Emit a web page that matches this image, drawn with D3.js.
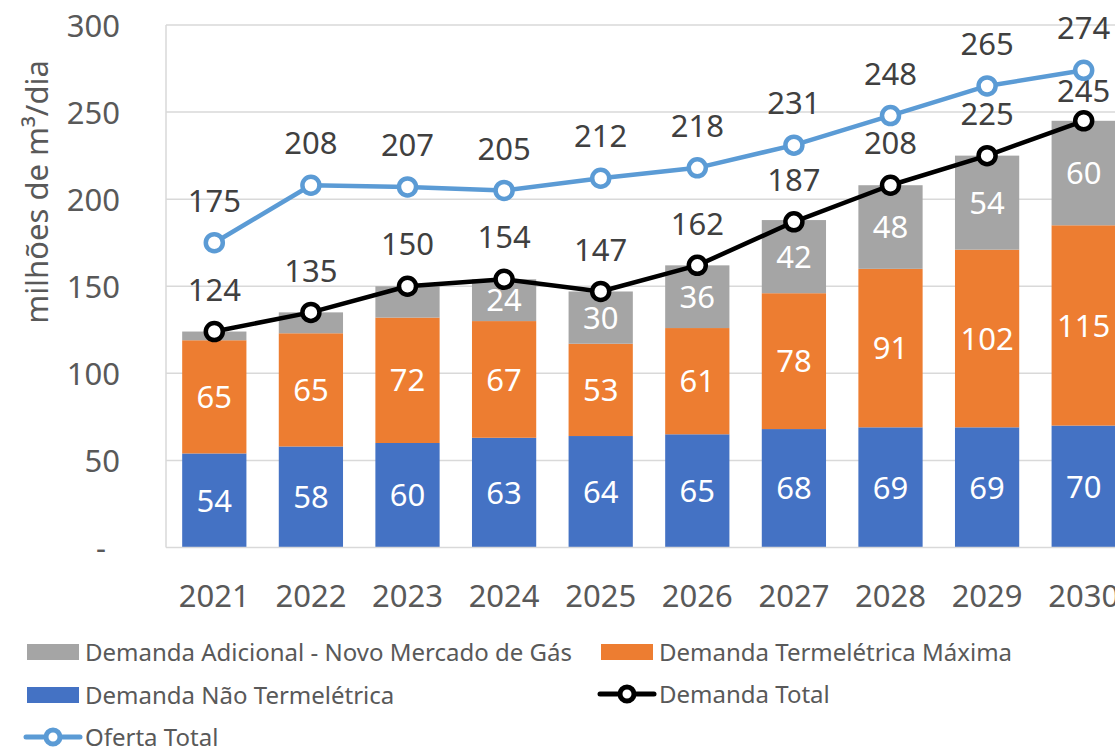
<!DOCTYPE html>
<html><head><meta charset="utf-8">
<script src="https://cdn.jsdelivr.net/npm/d3@7"></script>
<style>html,body{margin:0;padding:0;background:#fff;overflow:hidden}svg{display:block}</style>
</head><body>
<svg id="c" width="1115" height="747"></svg>
<script>
const years = ["2021","2022","2023","2024","2025","2026","2027","2028","2029","2030"];
const naoTermo = [54,58,60,63,64,65,68,69,69,70];
const termoMax = [65,65,72,67,53,61,78,91,102,115];
const adicional = [5,12,18,24,30,36,42,48,54,60];
const demandaTotal = [124,135,150,154,147,162,187,208,225,245];
const ofertaTotal = [175,208,207,205,212,218,231,248,265,274];
const yTicks = [0,50,100,150,200,250,300];

const FONT = "'Noto Sans', sans-serif";
const svg = d3.select("#c");
const x = d3.scaleBand().domain(years).range([166, 1132]).paddingInner(0.335).paddingOuter(0.1675);
const y = d3.scaleLinear().domain([0,300]).range([547.5, 25]);

// gridlines
svg.append("g").selectAll("line").data(yTicks.filter(d=>d>0)).join("line")
  .attr("x1",166).attr("x2",1132).attr("y1",d=>y(d)).attr("y2",d=>y(d))
  .attr("stroke","#D9D9D9").attr("stroke-width",1.5);
svg.append("line").attr("x1",166).attr("x2",166).attr("y1",y(300)).attr("y2",y(0)).attr("stroke","#D9D9D9").attr("stroke-width",1.5);

const yAxis = d3.axisLeft(y).tickValues(yTicks).tickSize(0).tickFormat(d=>d===0?"-":d);
const ga = svg.append("g").attr("transform","translate(120,0)").call(yAxis);
ga.select(".domain").remove();
ga.selectAll("text").attr("font-family",FONT).attr("font-size",31).attr("fill","#595959").attr("dy","0.36em").attr("x",0)
  .filter(d=>d===0).attr("x",-14);

svg.append("text").attr("transform","translate(48,192) rotate(-90)").attr("text-anchor","middle")
  .attr("font-family",FONT).attr("font-size",31).attr("fill","#595959").text("milhões de m³/dia");

// stacked bars
const series = [
  {name:"Demanda Não Termelétrica", vals:naoTermo, color:"#4472C4"},
  {name:"Demanda Termelétrica Máxima", vals:termoMax, color:"#ED7D31"},
  {name:"Demanda Adicional - Novo Mercado de Gás", vals:adicional, color:"#A5A5A5"}
];
const base = years.map(()=>0);
series.forEach(s=>{
  const g = svg.append("g");
  const rows = years.map((yr,i)=>({yr, v:s.vals[i], y0:base[i], y1:base[i]+s.vals[i]}));
  rows.forEach((r,i)=>base[i]=r.y1);
  g.selectAll("rect").data(rows).join("rect")
    .attr("x",d=>x(d.yr)).attr("width",x.bandwidth())
    .attr("y",d=>y(d.y1)).attr("height",d=>y(d.y0)-y(d.y1)).attr("fill",s.color);
  g.selectAll("text").data(rows.filter(d=>d.v>=20)).join("text")
    .attr("x",d=>x(d.yr)+x.bandwidth()/2).attr("y",d=>y((d.y0+d.y1)/2)).attr("dy","0.36em")
    .attr("text-anchor","middle").attr("font-family",FONT).attr("font-size",31).attr("fill","#fff").text(d=>d.v);
});
svg.append("line").attr("x1",166).attr("x2",1132).attr("y1",y(0)).attr("y2",y(0)).attr("stroke","#D9D9D9").attr("stroke-width",1.5);
const xAxis = d3.axisBottom(x).tickSize(0);
const gx = svg.append("g").attr("transform",`translate(0,${y(0)})`).call(xAxis);
gx.select(".domain").remove();
gx.selectAll("text").attr("font-family",FONT).attr("font-size",31).attr("fill","#595959").attr("y",37).attr("dy","0.71em");

// lines
const cx = yr=>x(yr)+x.bandwidth()/2;
function drawLine(vals,color,labelOffsets){
  const pts = years.map((yr,i)=>({yr,v:vals[i]}));
  svg.append("path").datum(pts).attr("fill","none").attr("stroke",color).attr("stroke-width",4.5)
    .attr("stroke-linejoin","round").attr("d",d3.line().x(d=>cx(d.yr)).y(d=>y(d.v)));
  svg.append("g").selectAll("circle").data(pts).join("circle")
    .attr("cx",d=>cx(d.yr)).attr("cy",d=>y(d.v)).attr("r",8.5)
    .attr("fill","#fff").attr("stroke",color).attr("stroke-width",4.5);
  svg.append("g").selectAll("text").data(pts).join("text")
    .attr("x",d=>cx(d.yr)).attr("y",(d,i)=>y(d.v)-labelOffsets(i)).attr("dy","0.36em")
    .attr("text-anchor","middle").attr("font-family",FONT).attr("font-size",31).attr("fill","#404040").text(d=>d.v);
}
drawLine(demandaTotal,"#000",i=> i===years.length-1 ? 30 : 42);
drawLine(ofertaTotal,"#5B9BD5",()=>42);

// legend
const lg = svg.append("g").attr("font-family",FONT).attr("font-size",24).attr("fill","#595959");
function swatch(xp,yp,color,label){
  lg.append("rect").attr("x",xp).attr("y",yp-8).attr("width",52).attr("height",16).attr("fill",color);
  lg.append("text").attr("x",xp+58).attr("y",yp).attr("dy","0.36em").text(label);
}
function lineKey(xp,yp,color,label){
  lg.append("line").attr("x1",xp).attr("x2",xp+54).attr("y1",yp).attr("y2",yp).attr("stroke",color).attr("stroke-width",5).attr("stroke-linecap","round");
  lg.append("circle").attr("cx",xp+27).attr("cy",yp).attr("r",7).attr("fill","#fff").attr("stroke",color).attr("stroke-width",5);
  lg.append("text").attr("x",xp+59).attr("y",yp).attr("dy","0.36em").text(label);
}
swatch(27,652,"#A5A5A5","Demanda Adicional - Novo Mercado de Gás");
swatch(601,652,"#ED7D31","Demanda Termelétrica Máxima");
swatch(27,695,"#4472C4","Demanda Não Termelétrica");
lineKey(600,694,"#000","Demanda Total");
lineKey(26,737,"#5B9BD5","Oferta Total");
</script>
</body></html>
